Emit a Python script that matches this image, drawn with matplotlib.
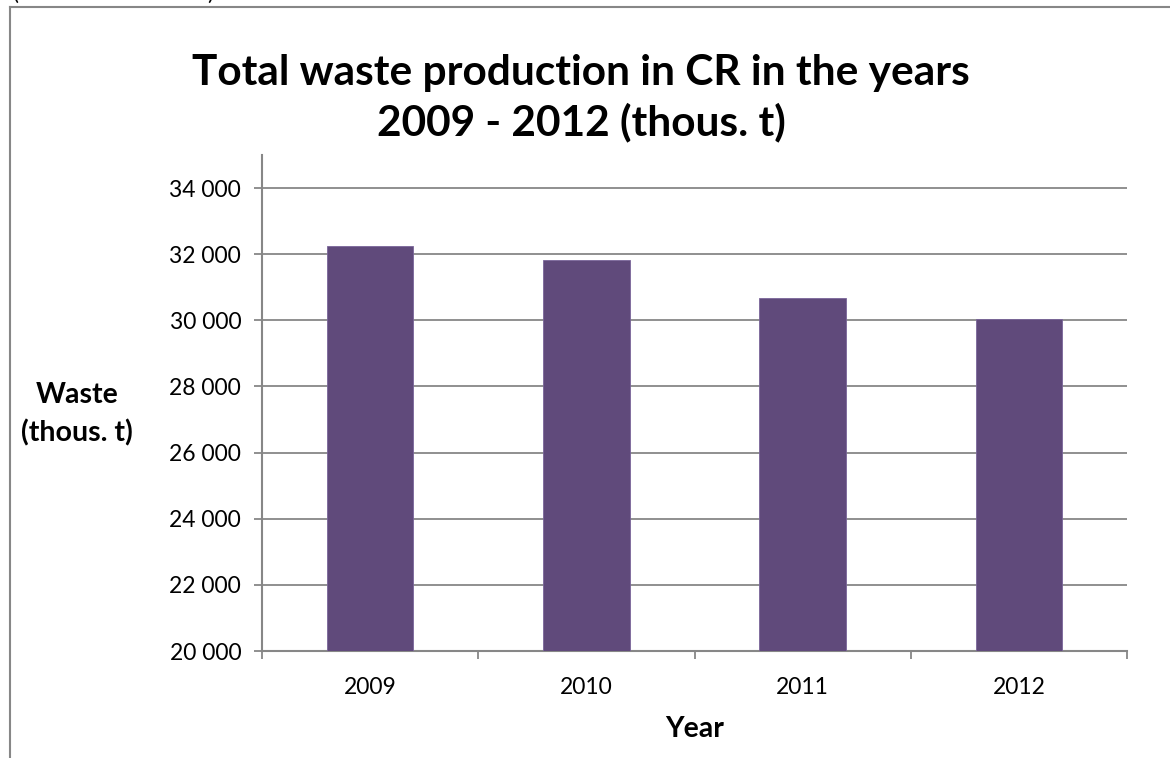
import matplotlib
matplotlib.use("Agg")
import matplotlib.pyplot as plt
from matplotlib.ticker import FuncFormatter, FixedLocator
from matplotlib.lines import Line2D

# Data
years = ["2009", "2010", "2011", "2012"]
waste = [32260, 31810, 30670, 30040]
y_ticks = [20000, 22000, 24000, 26000, 28000, 30000, 32000, 34000]

title = "Total waste production in CR in the years\n2009 - 2012 (thous. t)"
x_label = "Year"
y_label = "Waste\n(thous. t)"

BAR = "#604A7B"
GRID = "#878787"
FONT = "Lato"

plt.rcParams["font.family"] = [FONT, "DejaVu Sans"]

W, H = 1170, 758
fig = plt.figure(figsize=(W / 100, H / 100), dpi=100)
fig.patch.set_facecolor("white")

# plot area in pixels: left 262, right 1127, top 155, bottom 651
ax = fig.add_axes([262 / W, (H - 651) / H, 865 / W, 496 / H])

x = list(range(len(years)))
ax.bar(x, waste, width=0.4, color=BAR, edgecolor="#7A659A", linewidth=0.6, zorder=3)

ax.set_xlim(-0.5, len(years) - 0.5)
ax.set_ylim(20000, 35000)

ax.yaxis.set_major_locator(FixedLocator(y_ticks))
ax.yaxis.set_major_formatter(FuncFormatter(lambda v, p: f"{int(v):,}".replace(",", " ")))
ax.grid(axis="y", color=GRID, linewidth=1.3, zorder=0)
ax.set_axisbelow(True)

# category boundaries carry the tick marks, labels sit at the centres
ax.xaxis.set_major_locator(FixedLocator([i - 0.5 for i in range(len(years) + 1)]))
ax.xaxis.set_major_formatter(FuncFormatter(lambda v, p: ""))
ax.xaxis.set_minor_locator(FixedLocator(x))
ax.set_xticklabels(years, minor=True)
ax.tick_params(axis="x", which="minor", length=0, labelsize=16.5, pad=19)
ax.tick_params(axis="x", which="major", length=6, width=1.3, color=GRID, direction="out")
ax.tick_params(axis="y", length=6, width=1.3, color=GRID, direction="out", labelsize=16.5, pad=9)

for s in ("top", "right"):
    ax.spines[s].set_visible(False)
for s in ("left", "bottom"):
    ax.spines[s].set_color(GRID)
    ax.spines[s].set_linewidth(1.5)

# title and axis titles
fig.text(581 / W, 1 - 98 / H, title, ha="center", va="center", fontsize=30.5,
         fontweight="bold", linespacing=1.33)
fig.text(77 / W, 1 - 414 / H, y_label, ha="center", va="center", fontsize=20.5,
         fontweight="bold", linespacing=1.5)
fig.text(695 / W, 1 - 729 / H, x_label, ha="center", va="center", fontsize=20.5,
         fontweight="bold")

# chart frame (left and top edges)
fig.add_artist(Line2D([10 / W, 10 / W], [0, 1 - 7 / H], transform=fig.transFigure,
                      color=GRID, linewidth=1.5))
fig.add_artist(Line2D([10 / W, 1], [1 - 7 / H, 1 - 7 / H], transform=fig.transFigure,
                      color=GRID, linewidth=1.5))

# caption line above the frame, mostly outside the canvas
fig.text(13 / W, 1 - 4 / H, "(", ha="left", va="bottom", fontsize=16)
fig.text(213 / W, 1 - 4 / H, ")", ha="right", va="bottom", fontsize=16)

fig.savefig("out.png", dpi=100, facecolor="white")
